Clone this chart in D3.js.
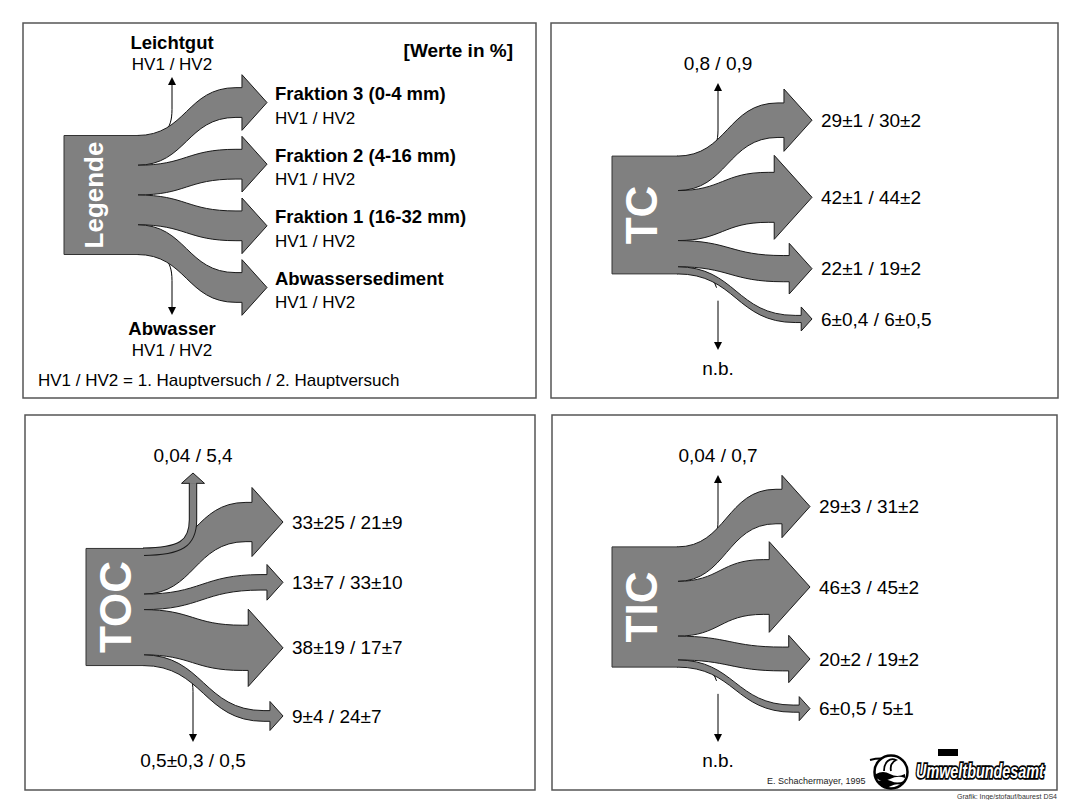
<!DOCTYPE html>
<html lang="de">
<head>
<meta charset="utf-8">
<title>Kohlenstoffverteilung TC / TOC / TIC</title>
<script src="https://d3js.org/d3.v7.min.js"></script>
<style>
body { margin: 0; background: #fff; }
text { font-family: "Liberation Sans", Arial, sans-serif; fill: #000; }
.frame { fill: none; stroke: #555; stroke-width: 1.5px; }
.flow { fill: #808080; stroke: #1a1a1a; stroke-width: 1px; }
.block { fill: #808080; }
.blockedge { fill: none; stroke: #333; stroke-width: 1px; }
.thin { fill: none; stroke: #000; stroke-width: 1px; }
.tip { fill: #000; }
.val { font-size: 19px; }
.hv { font-size: 17px; }
.bold { font-size: 18.5px; font-weight: bold; }
</style>
</head>
<body>
<script>

// --- data (percent of input, HV1 / HV2) ---
var fractions = ["Fraktion 3 (0-4 mm)", "Fraktion 2 (4-16 mm)", "Fraktion 1 (16-32 mm)", "Abwassersediment"];
var sideNames = ["Leichtgut", "Abwasser"];
var runLabel = "HV1 / HV2";
var legendShare = [25, 25, 25, 25];

var tcHV1 = [29, 42, 22, 6];
var tcErr1 = [1, 1, 1, 0.4];
var tcHV2 = [30, 44, 19, 6];
var tcErr2 = [2, 2, 2, 0.5];
var tcLeicht = [0.8, 0.9];
var tcAbw = null; // n.b.

var tocHV1 = [33, 13, 38, 9];
var tocErr1 = [25, 7, 19, 4];
var tocHV2 = [21, 33, 17, 24];
var tocErr2 = [9, 10, 7, 7];
var tocLeicht = [0.04, 5.4];
var tocAbw = [0.5, 0.5];
var tocAbwErr = [0.3, null];

var ticHV1 = [29, 46, 20, 6];
var ticErr1 = [3, 3, 2, 0.5];
var ticHV2 = [31, 45, 19, 5];
var ticErr2 = [2, 2, 2, 1];
var ticLeicht = [0.04, 0.7];
var ticAbw = null; // n.b.

var width = 1065, height = 800;

var svg = d3.select("body").append("svg")
    .attr("width", width)
    .attr("height", height);

svg.append("rect").attr("width", width).attr("height", height).attr("fill", "#fff");

// percent -> pixel thickness
var k = d3.scaleLinear().domain([0, 100]).range([0, 119]);

function num(v) { return String(v).replace(".", ","); }
function pm(v, e) { return num(v) + (e == null ? "" : "\u00b1" + num(e)); }

var panels = [
  {title: "Legende", legend: true, hv1: legendShare, up: null, down: null,
   x: 23, y: 23, w: 513, h: 375, bx: 41, bw: 73, by: 172, tx: 244, vx: 149,
   upTip: 54, downTip: 292, gaps: [6, 6, 6], shift: 0, font: 26},
  {title: "TC", hv1: tcHV1, err1: tcErr1, hv2: tcHV2, err2: tcErr2,
   up: tcLeicht, upErr: [null, null], down: tcAbw,
   x: 551, y: 23, w: 507, h: 375, bx: 61, bw: 65, by: 192, tx: 261, vx: 167,
   upTip: 60, downTip: 327, gaps: [4, 4, 13], shift: -5, font: 44},
  {title: "TOC", hv1: tocHV1, err1: tocErr1, hv2: tocHV2, err2: tocErr2,
   up: tocLeicht, upErr: [null, null], down: tocAbw, downErr: tocAbwErr,
   x: 25, y: 415, w: 510, h: 375, bx: 61, bw: 57, by: 192, tx: 258, vx: 168,
   upTip: 58, downTip: 327, gaps: [8, 9, 15], shift: 2, font: 44},
  {title: "TIC", hv1: ticHV1, err1: ticErr1, hv2: ticHV2, err2: ticErr2,
   up: ticLeicht, upErr: [null, null], down: ticAbw,
   x: 552, y: 415, w: 505, h: 375, bx: 60, bw: 65, by: 192, tx: 258, vx: 166,
   upTip: 60, downTip: 327, gaps: [4, 3, 14], shift: -9, font: 44}
];

function flowPath(d, x1, tipX) {
  var hx = tipX - d.len, ex = hx - 6, mx = (x1 + ex) / 2;
  var t0 = d.ty - d.w / 2, t1 = d.ty + d.w / 2;
  var p = d3.path();
  p.moveTo(x1, d.s0);
  p.bezierCurveTo(mx, d.s0, mx, t0, ex, t0);
  p.lineTo(hx, t0);
  p.lineTo(hx, d.ty - d.half);
  p.lineTo(tipX, d.ty);
  p.lineTo(hx, d.ty + d.half);
  p.lineTo(hx, t1);
  p.lineTo(ex, t1);
  p.bezierCurveTo(mx, t1, mx, d.s1, x1, d.s1);
  p.closePath();
  return p.toString();
}

function sideThin(g, p, dir, x1, y0, nb) {
  var vx = p.x + p.vx, sx = x1 + 14;
  var tipY = p.y + (dir < 0 ? p.upTip : p.downTip);
  var curve = d3.path();
  curve.moveTo(sx, y0);
  curve.bezierCurveTo(vx - 10, y0, vx, y0 + dir * 4, vx, y0 + dir * 26);
  var full = d3.path();
  full.moveTo(sx, y0);
  full.bezierCurveTo(vx - 10, y0, vx, y0 + dir * 4, vx, y0 + dir * 26);
  full.lineTo(vx, tipY - dir * 7);
  var line = g.append("path").attr("class", "thin").attr("d", full.toString());
  if (nb) {
    var c = g.append("path").attr("d", curve.toString()).attr("fill", "none");
    var a = c.node().getTotalLength();
    c.remove();
    line.attr("stroke-dasharray", (a * 0.72) + " 13 1000");
  }
  g.append("path").attr("class", "tip")
    .attr("d", "M" + vx + "," + tipY + "L" + (vx - 4) + "," + (tipY - dir * 8) + "L" + (vx + 4) + "," + (tipY - dir * 8) + "Z");
}

function sideBand(g, p, x1, top, w) {
  var vx = p.x + p.vx, cy0 = top + w / 2;
  var half = w * 0.7 + 7, len = half * 0.9;
  var tipY = p.y + p.upTip, hb = tipY + len;
  var pth = d3.path();
  pth.moveTo(x1, cy0);
  pth.bezierCurveTo(x1 + (vx - x1) * 0.75, cy0, vx, cy0 - 8, vx, cy0 - 32);
  pth.lineTo(vx, hb);
  g.append("path").attr("d", pth.toString()).attr("fill", "none")
    .attr("stroke", "#1a1a1a").attr("stroke-width", w + 2);
  g.append("path").attr("d", pth.toString()).attr("fill", "none")
    .attr("stroke", "#808080").attr("stroke-width", w);
  g.append("path").attr("class", "flow")
    .attr("d", "M" + (vx - w / 2) + "," + hb + "L" + (vx - half) + "," + hb + "L" + vx + "," + tipY +
      "L" + (vx + half) + "," + hb + "L" + (vx + w / 2) + "," + hb);
}

function drawPanel(p) {
  var g = svg.append("g");
  g.append("rect").attr("class", "frame")
    .attr("x", p.x).attr("y", p.y).attr("width", p.w).attr("height", p.h);

  var main = p.hv1.map(function(v, i) { return {i: i, w: k(v)}; });
  var upW = p.up ? k(d3.max(p.up)) : 0, upBand = upW >= 3;
  var downW = p.down ? k(d3.max(p.down)) : 0, downBand = downW >= 3;
  var total = (upBand ? upW : 0) + d3.sum(main, function(d) { return d.w; }) + (downBand ? downW : 0);

  var bx = p.x + p.bx, x1 = bx + p.bw, cy = p.y + p.by;
  var top = cy - total / 2, bottom = cy + total / 2;
  var tipX = p.x + p.tx;

  var s = top + (upBand ? upW : 0);
  main.forEach(function(d) {
    d.s0 = s; s += d.w; d.s1 = s;
    d.half = d.w * 0.7 + 7;
    d.len = d.half * 0.9;
  });
  var stack = d3.sum(main, function(d) { return 2 * d.half; }) + d3.sum(p.gaps);
  var hy = cy + p.shift - stack / 2;
  main.forEach(function(d, i) {
    d.ty = hy + d.half;
    hy += 2 * d.half + (p.gaps[i] || 0);
  });

  // thin side outflows under the bands
  if (!upBand) sideThin(g, p, -1, x1, top, false);
  if (!downBand) sideThin(g, p, 1, x1, bottom, !p.legend && p.down == null);

  g.selectAll(".main").data(main).enter().append("path")
    .attr("class", "flow main")
    .attr("d", function(d) { return flowPath(d, x1, tipX); });

  if (upBand) sideBand(g, p, x1, top, upW);

  g.append("rect").attr("class", "block")
    .attr("x", bx).attr("y", top).attr("width", x1 + 1 - bx).attr("height", bottom - top);
  g.append("path").attr("class", "blockedge")
    .attr("d", "M" + (x1 + 1) + "," + top + "H" + bx + "V" + bottom + "H" + (x1 + 1));

  g.append("text")
    .attr("transform", "translate(" + (bx + 30) + "," + cy + ") rotate(-90)")
    .attr("text-anchor", "middle").attr("dy", "0.35em")
    .style("font-size", p.font + "px").style("font-weight", "bold").style("fill", "#fff")
    .text(p.title);

  var vx = p.x + p.vx;
  if (p.legend) {
    main.forEach(function(d) {
      g.append("text").attr("class", "bold").attr("x", tipX + 8).attr("y", d.ty - 2.5).text(fractions[d.i]);
      g.append("text").attr("class", "hv").attr("x", tipX + 8).attr("y", d.ty + 21).text(runLabel);
    });
    g.append("text").attr("class", "bold").attr("text-anchor", "middle").attr("x", vx).attr("y", p.y + 26).text(sideNames[0]);
    g.append("text").attr("class", "hv").attr("text-anchor", "middle").attr("x", vx).attr("y", p.y + 47).text(runLabel);
    g.append("text").attr("class", "bold").attr("text-anchor", "middle").attr("x", vx).attr("y", p.y + 312).text(sideNames[1]);
    g.append("text").attr("class", "hv").attr("text-anchor", "middle").attr("x", vx).attr("y", p.y + 333).text(runLabel);
    g.append("text").attr("class", "bold").attr("text-anchor", "end")
      .style("font-size", "19px").attr("x", p.x + 490).attr("y", p.y + 34).text("[Werte in %]");
    g.append("text").attr("class", "hv").attr("x", p.x + 15).attr("y", p.y + 363)
      .text("HV1 / HV2 = 1. Hauptversuch / 2. Hauptversuch");
  } else {
    main.forEach(function(d) {
      g.append("text").attr("class", "val").attr("x", tipX + 9).attr("y", d.ty).attr("dy", "0.35em")
        .text(pm(p.hv1[d.i], p.err1[d.i]) + " / " + pm(p.hv2[d.i], p.err2[d.i]));
    });
    g.append("text").attr("class", "val").attr("text-anchor", "middle").attr("x", vx).attr("y", p.y + 47)
      .text(pm(p.up[0], p.upErr[0]) + " / " + pm(p.up[1], p.upErr[1]));
    g.append("text").attr("class", "val").attr("text-anchor", "middle").attr("x", vx).attr("y", p.y + 352)
      .text(p.down == null ? "n.b." : pm(p.down[0], p.downErr[0]) + " / " + pm(p.down[1], p.downErr[1]));
  }
}

panels.forEach(drawPanel);

// credits and logo
svg.append("text").attr("x", 767).attr("y", 784).style("font-size", "9px").style("fill", "#222")
  .text("E. Schachermayer, 1995");

var logo = svg.append("g");
logo.append("path").attr("d", "M870,760 C878,758 884,758 890,760").attr("fill", "none").attr("stroke", "#000").attr("stroke-width", 2);
logo.append("circle").attr("cx", 891).attr("cy", 772).attr("r", 16.5)
  .attr("fill", "#fff").attr("stroke", "#000").attr("stroke-width", 2.5);
logo.append("path").attr("d", "M876,774 Q883,770 890,774 T905,774 L905,778 Q898,775 890,779 T876,778 Z").attr("fill", "#000");
logo.append("path").attr("d", "M878,781 Q885,778 891,781 T904,781 L902,785 Q896,783 891,786 T880,785 Z").attr("fill", "#000");
logo.append("path").attr("d", "M884,771 C884,762 890,757 896,760 C892,762 890,766 891,771").attr("fill", "none").attr("stroke", "#000").attr("stroke-width", 1.8);
logo.append("rect").attr("x", 938).attr("y", 749).attr("width", 20).attr("height", 7).attr("fill", "#000");
logo.append("text").attr("transform", "translate(916,778) scale(0.72,1)")
  .style("font-size", "20px").style("font-weight", "bold").style("font-style", "italic")
  .style("fill", "#fff").style("stroke", "#000").style("stroke-width", "3.5px")
  .style("paint-order", "stroke")
  .text("Umweltbundesamt");

svg.append("text").attr("x", 1057).attr("y", 799).attr("text-anchor", "end")
  .style("font-size", "7px").style("fill", "#333")
  .text("Grafik: Inge/stofauf/baurest DS4");

</script>
</body>
</html>
